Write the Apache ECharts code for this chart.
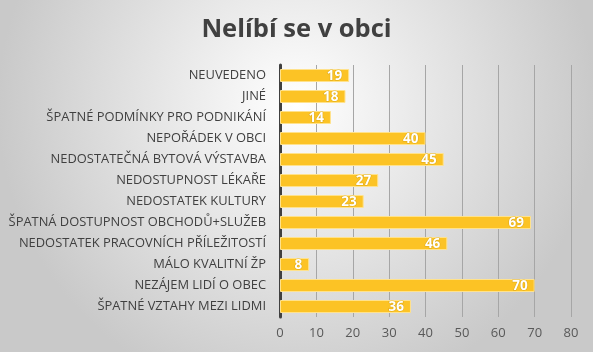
<!DOCTYPE html>
<html>
<head>
<meta charset="utf-8">
<script src="https://cdn.jsdelivr.net/npm/echarts@6/dist/echarts.min.js"></script>
<style>
  html, body { margin: 0; padding: 0; }
  #chart { width: 593px; height: 352px; }
</style>
</head>
<body>
<div id="chart"></div>
<script>
// kategorie shora dolů
const categories = [
  'NEUVEDENO',
  'JINÉ',
  'ŠPATNÉ PODMÍNKY PRO PODNIKÁNÍ',
  'NEPOŘÁDEK V OBCI',
  'NEDOSTATEČNÁ BYTOVÁ VÝSTAVBA',
  'NEDOSTUPNOST LÉKAŘE',
  'NEDOSTATEK KULTURY',
  'ŠPATNÁ DOSTUPNOST OBCHODŮ+SLUŽEB',
  'NEDOSTATEK PRACOVNÍCH PŘÍLEŽITOSTÍ',
  'MÁLO KVALITNÍ ŽP',
  'NEZÁJEM LIDÍ O OBEC',
  'ŠPATNÉ VZTAHY MEZI LIDMI'
]
const values = [19, 18, 14, 40, 45, 27, 23, 69, 46, 8, 70, 36]
const axisMax = 80
const axisStep = 10

const mChart = echarts.init(document.getElementById('chart'))

const options = {
  backgroundColor: {
    type: 'radial',
    x: 0.5,
    y: 0.3,
    r: 0.85,
    colorStops: [
      { offset: 0, color: '#ffffff' },
      { offset: 1, color: '#c9c9c9' }
    ]
  },
  title: {
    text: 'Nelíbí se v obci',
    left: 'center',
    top: 12,
    textStyle: {
      fontFamily: 'Open Sans',
      fontWeight: 'bold',
      fontSize: 25.5,
      color: '#404040'
    }
  },
  grid: {
    top: 65,
    right: 22,
    bottom: 35,
    left: 280,
    containLabel: false,
    outerBoundsMode: 'none'
  },
  xAxis: {
    type: 'value',
    min: 0,
    max: axisMax,
    interval: axisStep,
    axisLine: { show: false },
    axisTick: { show: false },
    axisLabel: {
      margin: 10,
      fontFamily: 'Open Sans',
      fontSize: 13,
      color: '#595959'
    },
    splitLine: {
      lineStyle: { color: '#a6a6a6', width: 1 }
    }
  },
  yAxis: {
    type: 'category',
    data: categories,
    inverse: true,
    axisTick: { show: false },
    axisLine: {
      lineStyle: { color: '#404040', width: 3 }
    },
    axisLabel: {
      margin: 14,
      fontFamily: 'Open Sans',
      fontSize: 12.9,
      color: '#404040'
    }
  },
  series: [
    {
      type: 'bar',
      data: values,
      barWidth: 13,
      itemStyle: {
        color: '#fcc325',
        borderColor: '#ffe28c',
        borderWidth: 1
      },
      label: {
        show: true,
        position: 'insideRight',
        offset: [-2, 1],
        fontFamily: 'Open Sans',
        fontWeight: 'bold',
        fontSize: 13.5,
        color: '#ffffff',
        textBorderColor: 'rgba(160,120,0,0.35)',
        textBorderWidth: 1
      },
      silent: true
    }
  ],
  animation: false
}
mChart.setOption(options)
</script>
</body>
</html>
